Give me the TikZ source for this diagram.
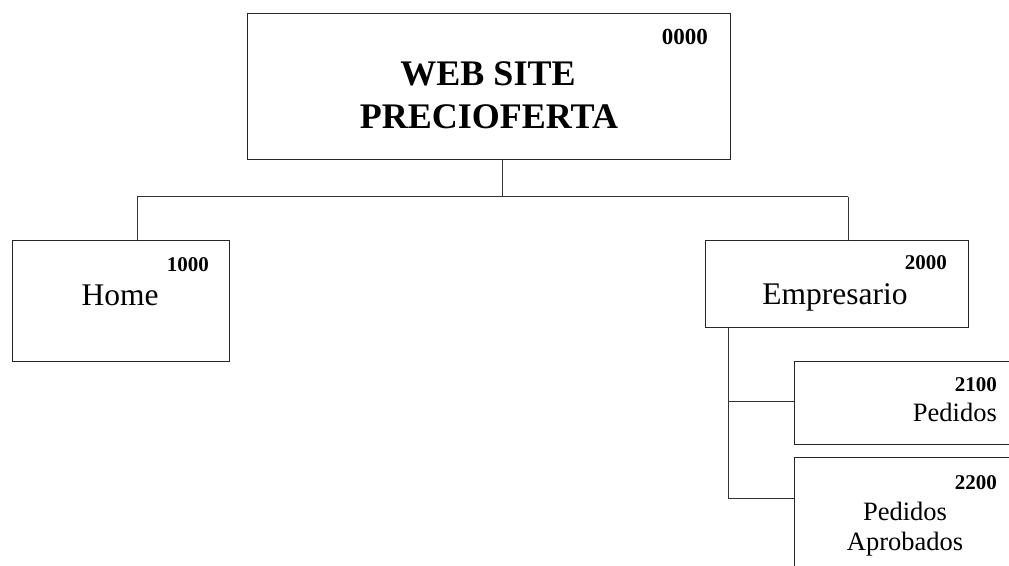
\documentclass[tikz,border=0pt]{standalone}
\usepackage{fontspec}
\setmainfont{Liberation Serif}
\begin{document}
\begin{tikzpicture}[x=1pt,y=1pt,
  box/.style={draw=black!85, line width=1pt, inner sep=0pt, outer sep=0pt, fill=white},
  wire/.style={draw=black!80, line width=1pt},
  code/.style={anchor=base east, inner sep=0pt, font=\fontsize{21}{21}\selectfont\bfseries},
  lbl/.style={anchor=base, inner sep=0pt}]
\useasboundingbox (0,0) rectangle (1009,565);
\clip (0,0) rectangle (1009,565);
\fill[white] (0,0) rectangle (1009,565);
% boxes
\node[box, minimum width=483pt, minimum height=146pt] (root) at (488.5,478) {};
\node[box, minimum width=217pt, minimum height=121pt] (home) at (120.5,263.5) {};
\node[box, minimum width=263pt, minimum height=87pt] (emp) at (836.5,280.5) {};
\node[box, minimum width=236pt, minimum height=83pt] (ped) at (912,161.5) {};
\node[box, minimum width=236pt, minimum height=127pt] (apr) at (912,43.5) {};
% connectors
\coordinate (bus) at (502,368);
\coordinate (busL) at (137,368);
\coordinate (busR) at (848,368);
\coordinate (stem) at (728,237);
\coordinate (b1) at (728,163);
\coordinate (b2) at (728,67);
\draw[wire] (root.south -| bus) -- (bus);
\draw[wire] (busL) -- (busR);
\draw[wire] (busL) -- (busL |- home.north);
\draw[wire] (busR) -- (busR |- emp.north);
\draw[wire] (stem) -- (b2);
\draw[wire] (b1) -- (b1 -| ped.west);
\draw[wire] (b2) -- (b2 -| apr.west);
% texts
\node[code, font=\fontsize{23}{23}\selectfont\bfseries] (c0) at (708,520) {0000};
\node[lbl, font=\fontsize{36}{36}\selectfont\bfseries] (t1) at (488,479) {WEB SITE};
\node[lbl, font=\fontsize{36}{36}\selectfont\bfseries] (t2) at (489,436) {PRECIOFERTA};
\node[code] (c1) at (209,293) {1000};
\node[lbl, font=\fontsize{31.5}{31.5}\selectfont] (t3) at (120,259) {Home};
\node[code] (c2) at (947,295) {2000};
\node[lbl, font=\fontsize{31.5}{31.5}\selectfont] (t4) at (835,260) {Empresario};
\node[code] (c3) at (997,173) {2100};
\node[anchor=base east, inner sep=0pt, font=\fontsize{26.5}{26.5}\selectfont] (t5) at (997,143) {Pedidos};
\node[code] (c4) at (997,76) {2200};
\node[lbl, font=\fontsize{26.5}{26.5}\selectfont] (t6) at (905,45) {Pedidos};
\node[lbl, font=\fontsize{26.5}{26.5}\selectfont] (t7) at (905,15) {Aprobados};
\end{tikzpicture}
\end{document}
